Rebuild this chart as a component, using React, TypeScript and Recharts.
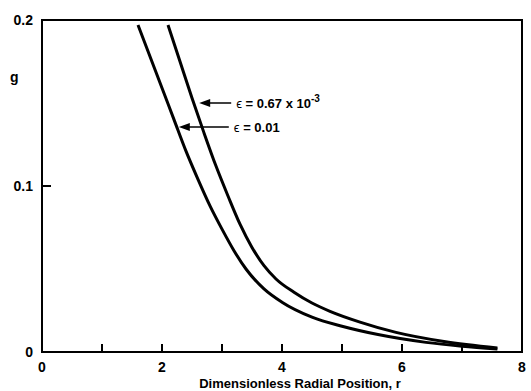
import React from "react"
import {
  LineChart,
  Line,
  XAxis,
  YAxis,
  ReferenceArea,
  ReferenceDot,
  Label,
} from "recharts"

// radial position r and g for the two curves
const rSmallEps = [2.1, 2.3, 2.5, 2.7, 2.9, 3.1, 3.3, 3.5, 3.7, 3.9, 4.2, 4.5, 4.8, 5.3, 5.9, 6.7, 7.59]
const gSmallEps = [0.197, 0.175, 0.153, 0.132, 0.112, 0.094, 0.077, 0.063, 0.052, 0.044, 0.036, 0.0295, 0.0245, 0.018, 0.0118, 0.0063, 0.0024]

const rLargeEps = [1.6, 1.8, 2.0, 2.2, 2.4, 2.6, 2.8, 3.0, 3.2, 3.4, 3.7, 4.0, 4.5, 5.0, 5.6, 6.4, 7.0, 7.59]
const gLargeEps = [0.197, 0.178, 0.159, 0.14, 0.121, 0.104, 0.088, 0.074, 0.061, 0.05, 0.038, 0.03, 0.021, 0.0155, 0.0105, 0.0058, 0.0035, 0.0018]

const xTicks = [0, 1, 2, 3, 4, 5, 6, 7, 8]
const xLabels = [0, 2, 4, 6, 8]
const yTicks = [0, 0.1, 0.2]
const yLabels = ["0", "0.1", "0.2"]

const smallEpsData = rSmallEps.map((r, i) => ({ r, g: gSmallEps[i] }))
const largeEpsData = rLargeEps.map((r, i) => ({ r, g: gLargeEps[i] }))

const FONT = "'Liberation Sans', Arial, sans-serif"

const XTick = (props: any) => {
  const { x, y, payload } = props
  const v = payload.value
  const inner = v > 0 && v < 8
  return (
    <g>
      {inner && <line x1={x} y1={y} x2={x} y2={y - 8} stroke="#000" strokeWidth={2} />}
      {xLabels.includes(v) && (
        <text x={x} y={y + 20} textAnchor="middle" fontFamily={FONT} fontWeight="bold" fontSize={14} fill="#000">
          {v}
        </text>
      )}
    </g>
  )
}

const YTick = (props: any) => {
  const { x, y, payload } = props
  const idx = yTicks.indexOf(payload.value)
  const inner = payload.value > 0 && payload.value < 0.2
  return (
    <g>
      {inner && <line x1={x} y1={y} x2={x + 9} y2={y} stroke="#000" strokeWidth={2} />}
      <text x={x - 9} y={y + 5} textAnchor="end" fontFamily={FONT} fontWeight="bold" fontSize={14} fill="#000">
        {yLabels[idx]}
      </text>
    </g>
  )
}

// arrow pointing left at the curve, with the epsilon label on its right
const arrowLabel = (len: number, main: string, sup?: string) => (props: any) => {
  const { cx, cy } = props
  return (
    <g>
      <line x1={cx + 8} y1={cy} x2={cx + len} y2={cy} stroke="#000" strokeWidth={1.5} />
      <polygon points={`${cx},${cy} ${cx + 11},${cy - 4} ${cx + 11},${cy + 4}`} fill="#000" />
      <text x={cx + len + 5} y={cy + 5} fontFamily={FONT} fontSize={13} fill="#000">
        <tspan fontWeight="normal">ϵ</tspan>
        <tspan fontWeight="bold">{main}</tspan>
        {sup && (
          <tspan fontWeight="bold" fontSize={10} dy={-6}>
            {sup}
          </tspan>
        )}
      </text>
    </g>
  )
}

export default function App() {
  return (
    <div style={{ position: "absolute", left: 0, top: 0, background: "#fff" }}>
      <LineChart width={531} height={391} margin={{ top: 20, right: 9, left: 0, bottom: 0 }}>
        <XAxis
          type="number"
          dataKey="r"
          domain={[0, 8]}
          ticks={xTicks}
          interval={0}
          allowDataOverflow
          height={39}
          tickSize={0}
          tickMargin={0}
          tickLine={false}
          axisLine={{ stroke: "#000", strokeWidth: 2 }}
          tick={<XTick />}
        >
          <Label
            content={() => (
              <text x={300} y={388} textAnchor="middle" fontFamily={FONT} fontWeight="bold" fontSize={13} fill="#000">
                Dimensionless Radial Position, r
              </text>
            )}
          />
        </XAxis>
        <YAxis
          type="number"
          dataKey="g"
          domain={[0, 0.2]}
          ticks={yTicks}
          interval={0}
          allowDataOverflow
          width={42}
          tickSize={0}
          tickMargin={0}
          tickLine={false}
          axisLine={{ stroke: "#000", strokeWidth: 2 }}
          tick={<YTick />}
        >
          <Label
            content={() => (
              <text x={10} y={82} fontFamily={FONT} fontWeight="bold" fontSize={14} fill="#000">
                g
              </text>
            )}
          />
        </YAxis>
        <ReferenceArea x1={0} x2={8} y1={0} y2={0.2} fill="none" stroke="#000" strokeWidth={2} />
        <Line
          data={smallEpsData}
          dataKey="g"
          type="monotone"
          stroke="#000"
          strokeWidth={3}
          dot={false}
          isAnimationActive={false}
        />
        <Line
          data={largeEpsData}
          dataKey="g"
          type="monotone"
          stroke="#000"
          strokeWidth={3}
          dot={false}
          isAnimationActive={false}
        />
        <ReferenceDot x={2.62} y={0.15} r={0} shape={arrowLabel(32, " = 0.67 x 10", "-3")} />
        <ReferenceDot x={2.28} y={0.1355} r={0} shape={arrowLabel(50, " = 0.01")} />
      </LineChart>
    </div>
  )
}
